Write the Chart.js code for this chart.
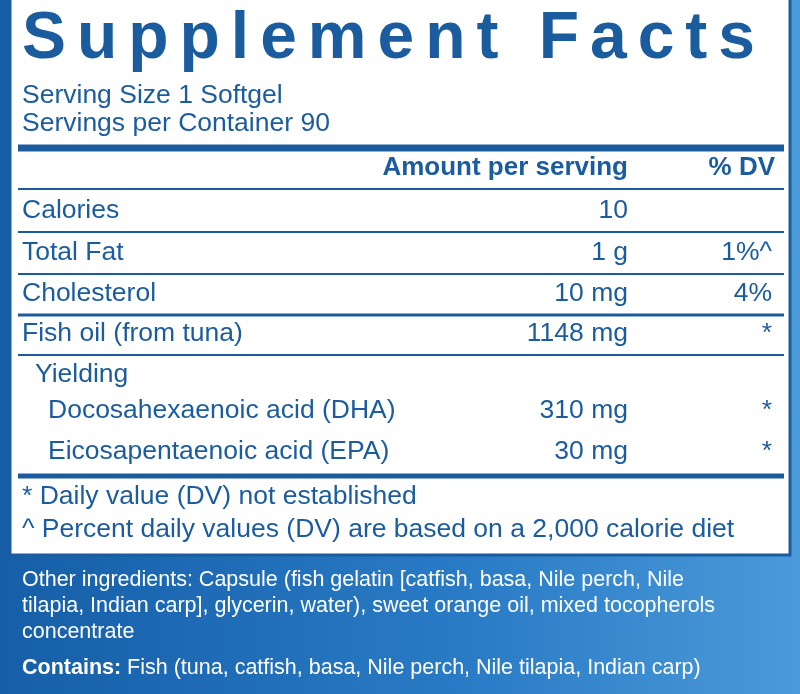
<!DOCTYPE html>
<html lang="en">
<head>
<meta charset="UTF-8" />
<title>Supplement Facts</title>
<script src="https://cdn.jsdelivr.net/npm/chart.js"></script>
<style>
  body { margin: 0; background: linear-gradient(90deg, #165ea8 0%, #2a7cc6 60%, #4b9ad9 100%); }
  #wrap { width: 800px; height: 694px; position: relative; }
</style>
</head>
<body>
<div id="wrap"><canvas id="facts"></canvas></div>
<script>
// label data
const title = 'Supplement Facts';
const servingLines = ['Serving Size 1 Softgel', 'Servings per Container 90'];
const headers = ['Amount per serving', '% DV'];
const nutrients = ['Calories', 'Total Fat', 'Cholesterol', 'Fish oil (from tuna)', 'Yielding', 'Docosahexaenoic acid (DHA)', 'Eicosapentaenoic acid (EPA)'];
const amounts = ['10', '1 g', '10 mg', '1148 mg', '', '310 mg', '30 mg'];
const dvs = ['', '1%^', '4%', '*', '', '*', '*'];
const indents = [0, 0, 0, 0, 1, 2, 2];
const footnotes = ['* Daily value (DV) not established', '^ Percent daily values (DV) are based on a 2,000 calorie diet'];
const otherLines = ['Other ingredients: Capsule (fish gelatin [catfish, basa, Nile perch, Nile',
  'tilapia, Indian carp], glycerin, water), sweet orange oil, mixed tocopherols', 'concentrate'];
const containsLabel = 'Contains:';
const containsText = ' Fish (tuna, catfish, basa, Nile perch, Nile tilapia, Indian carp)';

// row layout on the label (pixel rows)
const rowPos = [211, 253, 294, 334, 375, 411, 452];

const BLUE = '#1b5c9f';
const FONT = '"Liberation Sans", Arial, sans-serif';

const labelPlugin = {
  id: 'label',
  afterDraw(chart) {
    const ctx = chart.ctx;
    const ys = chart.scales.y;
    const pts = chart.getDatasetMeta(0).data;
    ctx.save();
    ctx.fillStyle = '#fff';
    ctx.fillRect(10, -5, 780, 560);
    ctx.strokeStyle = BLUE;
    ctx.lineWidth = 3;
    ctx.strokeRect(10, -5, 780, 560);

    ctx.fillStyle = BLUE;
    ctx.textBaseline = 'middle';
    ctx.font = 'bold 66px ' + FONT;
    ctx.letterSpacing = '0px';
    const w = ctx.measureText(title).width;
    ctx.letterSpacing = ((733 - w) / (title.length - 1)) + 'px';
    ctx.fillText(title, 22, 40);
    ctx.letterSpacing = '0px';

    ctx.font = '26.5px ' + FONT;
    servingLines.forEach((s, i) => ctx.fillText(s, 22, 96 + i * 28));

    const line = (y, lw) => { ctx.fillStyle = BLUE; ctx.fillRect(18, y - lw / 2, 766, lw); };
    line(148, 7);

    ctx.font = 'bold 26px ' + FONT;
    ctx.textAlign = 'right';
    ctx.fillText(headers[0], 628, 168);
    ctx.fillText(headers[1], 775, 168);
    line(189, 2);

    nutrients.forEach((n, i) => {
      const y = pts[i].y;
      ctx.fillStyle = BLUE;
      ctx.font = '26.5px ' + FONT;
      ctx.textAlign = 'left';
      ctx.fillText(n, 22 + indents[i] * 13, y);
      ctx.textAlign = 'right';
      ctx.fillText(amounts[i], 628, y);
      ctx.fillText(dvs[i], 772, y);
      if (i < 4) line(y + 21, i === 2 ? 3 : 2);
    });
    line(476, 5);

    ctx.font = '26.5px ' + FONT;
    ctx.textAlign = 'left';
    footnotes.forEach((f, i) => ctx.fillText(f, 22, 497 + i * 33));

    ctx.fillStyle = '#fff';
    ctx.font = '21.5px ' + FONT;
    otherLines.forEach((l, i) => ctx.fillText(l, 22, 580 + i * 26));
    ctx.font = 'bold 21.5px ' + FONT;
    ctx.fillText(containsLabel, 22, 668);
    const cw = ctx.measureText(containsLabel).width;
    ctx.font = '21.5px ' + FONT;
    ctx.fillText(containsText, 22 + cw, 668);
    ctx.restore();
  }
};

new Chart(document.getElementById('facts'), {
  type: 'scatter',
  data: {
    datasets: [{
      data: nutrients.map((n, i) => ({ x: 0, y: rowPos[i] })),
      pointRadius: 0
    }]
  },
  options: {
    responsive: true,
    maintainAspectRatio: false,
    animation: false,
    layout: { padding: 0 },
    plugins: { legend: { display: false }, tooltip: { enabled: false } },
    scales: {
      x: { display: false, min: 0, max: 1 },
      y: { display: false, reverse: true, min: 0, max: 694 }
    }
  },
  plugins: [labelPlugin]
});
</script>
</body>
</html>
